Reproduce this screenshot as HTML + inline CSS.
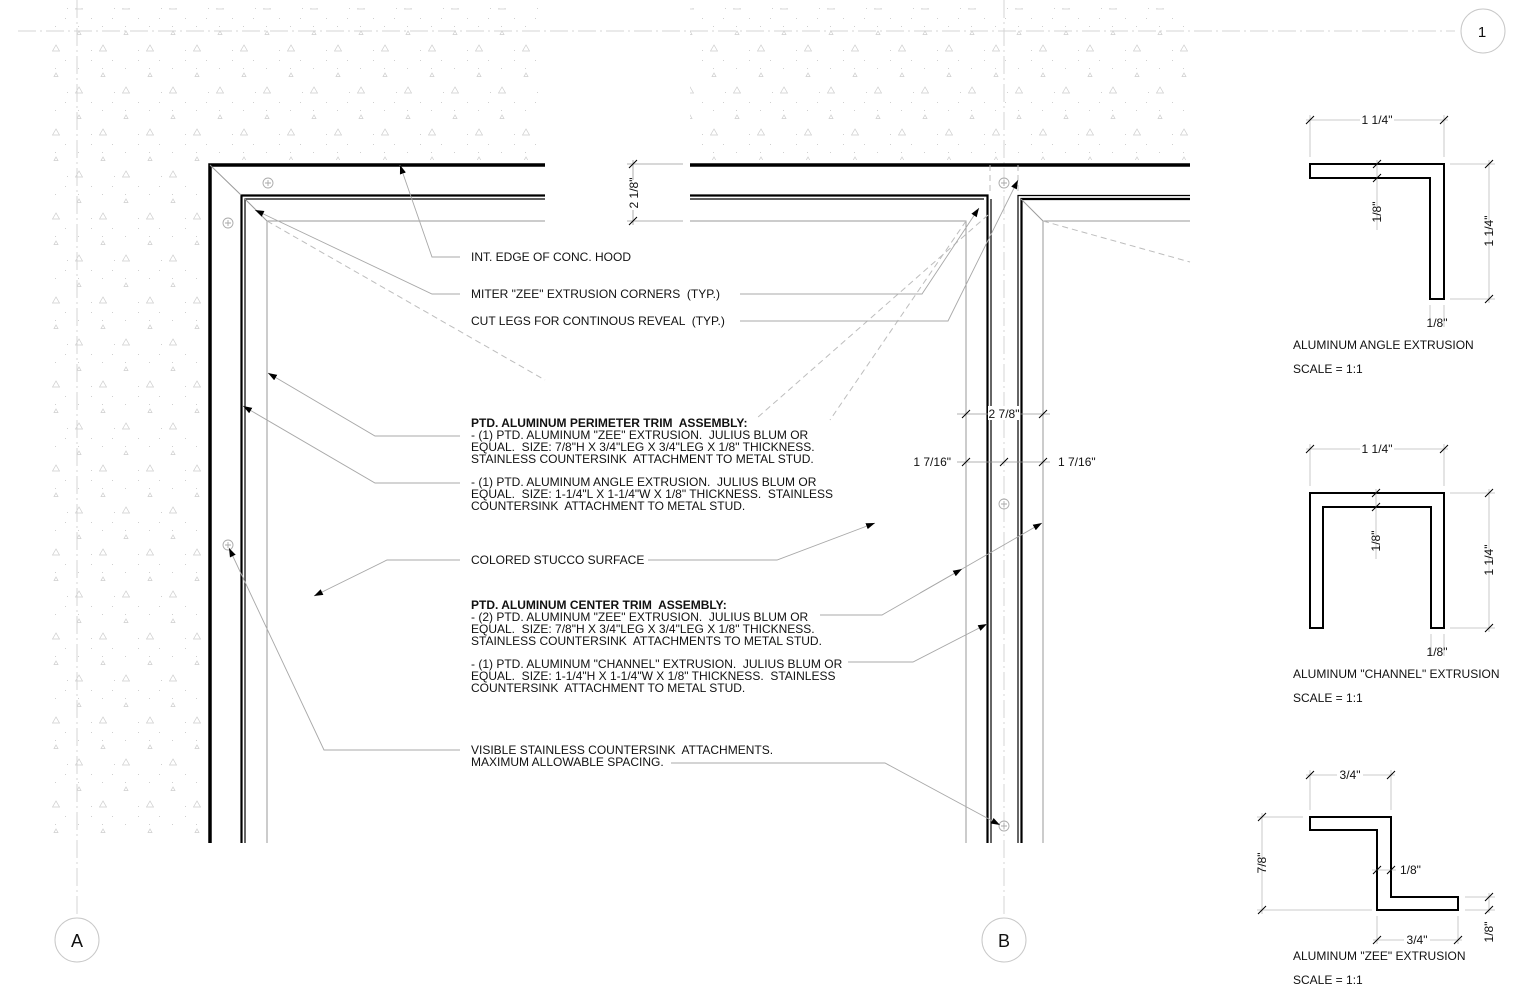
<!DOCTYPE html>
<html><head><meta charset="utf-8"><style>
html,body{margin:0;padding:0;background:#fff;}
svg{display:block;}
text{font-family:"Liberation Sans",Arial,sans-serif;fill:#111;white-space:pre;}
</style></head><body>
<svg width="1536" height="1000" viewBox="0 0 1536 1000" xmlns="http://www.w3.org/2000/svg" xml:space="preserve">
<defs>
<pattern id="conc" x="55" y="0" width="47" height="84" patternUnits="userSpaceOnUse">
 <g fill="none" stroke="#cdcdcd" stroke-width="0.7">
  <path d="M24 3 l-3.5 6 h7 z"/>
  <path d="M1 45 l-3.5 6 h7 z"/><path d="M48 45 l-3.5 6 h7 z"/>
  <path d="M24 31 l-2 3.5 h4 z"/>
  <path d="M1 73 l-2 3.5 h4 z"/><path d="M48 73 l-2 3.5 h4 z"/>
 </g>
 <g fill="#cfcfcf">
  <rect x="10" y="18" width="1" height="1"/><rect x="36" y="18" width="1" height="1"/>
  <rect x="23" y="26" width="1" height="1"/><rect x="0" y="26" width="1" height="1"/>
  <rect x="10" y="60" width="1" height="1"/><rect x="36" y="60" width="1" height="1"/>
  <rect x="23" y="68" width="1" height="1"/><rect x="0" y="68" width="1" height="1"/>
  <rect x="12" y="8" width="1" height="1"/><rect x="36" y="50" width="1" height="1"/>
 </g>
</pattern>
<marker id="ar" viewBox="0 0 10 10" refX="10" refY="5" markerWidth="9" markerHeight="9" markerUnits="userSpaceOnUse" orient="auto"><path d="M0 1.5 L10 5 L0 8.5 z" fill="#000"/></marker>
</defs>

<rect x="50" y="8" width="495" height="152" fill="url(#conc)"/>
<rect x="50" y="160" width="155" height="675" fill="url(#conc)"/>
<rect x="690" y="8" width="500" height="152" fill="url(#conc)"/>

<g stroke="#d4d4d4" stroke-width="1" fill="none" stroke-dasharray="18,4,2,4">
 <line x1="18" y1="31" x2="1455" y2="31"/>
 <line x1="77" y1="0" x2="77" y2="918"/>
 <line x1="1004" y1="0" x2="1004" y2="918"/>
</g>
<g fill="none" stroke="#c8c8c8" stroke-width="1">
 <circle cx="77" cy="940" r="22"/><circle cx="1004" cy="940" r="22"/><circle cx="1483" cy="31" r="22"/>
</g>
<text x="77" y="947" font-size="18" text-anchor="middle">A</text>
<text x="1004" y="947" font-size="18" text-anchor="middle">B</text>
<text x="1482" y="37" font-size="15" text-anchor="middle">1</text>

<g fill="none" stroke="#000">
 <polyline points="210,843 210,165 545,165" stroke-width="3.5"/>
 <line x1="690" y1="165" x2="1190" y2="165" stroke-width="3.5"/>
 <polyline points="241.5,843 241.5,195.5 545,195.5" stroke-width="2.2"/>
 <polyline points="245,843 245,199 545,199" stroke-width="1.2"/>
 <polyline points="690,195.5 987.5,195.5 987.5,843" stroke-width="2.2"/>
 <polyline points="690,199 984,199" stroke-width="1.2"/>
 <line x1="991" y1="199" x2="991" y2="843" stroke-width="1.2"/>
 <polyline points="1018,843 1018,195.5 1190,195.5" stroke-width="1.2"/>
 <polyline points="1021.5,843 1021.5,199 1190,199" stroke-width="2.2"/>
</g>
<g fill="none" stroke="#9a9a9a" stroke-width="1">
 <polyline points="267,843 267,221 545,221"/>
 <polyline points="690,221 966,221 966,843"/>
 <polyline points="1190,221 1043,221 1043,843"/>
 <line x1="210" y1="165" x2="241" y2="195"/>
 <line x1="245" y1="199" x2="267" y2="221"/>
 <line x1="1021" y1="199" x2="1043" y2="221"/>
</g>
<g fill="none" stroke="#bdbdbd" stroke-width="1" stroke-dasharray="6,4">
 <line x1="267" y1="221" x2="545" y2="380"/>
 <line x1="1043" y1="221" x2="1190" y2="262"/>
 <line x1="966" y1="221" x2="830" y2="420"/>
 <line x1="988" y1="215" x2="757" y2="418"/>
 <line x1="990" y1="165" x2="990" y2="195"/>
 <line x1="1018" y1="165" x2="1018" y2="195"/>
</g>

<g fill="none" stroke="#aaa" stroke-width="0.9">
 <g transform="translate(268,183)"><circle r="5"/><path d="M-3 0h6M0 -3v6"/></g>
 <g transform="translate(228,223)"><circle r="5"/><path d="M-3 0h6M0 -3v6"/></g>
 <g transform="translate(228,545)"><circle r="5"/><path d="M-3 0h6M0 -3v6"/></g>
 <g transform="translate(1004,183)"><circle r="5"/><path d="M-3 0h6M0 -3v6"/></g>
 <g transform="translate(1004,504)"><circle r="5"/><path d="M-3 0h6M0 -3v6"/></g>
 <g transform="translate(1004,826)"><circle r="5"/><path d="M-3 0h6M0 -3v6"/></g>
</g>

<g fill="none" stroke="#999" stroke-width="0.8">
 <line x1="627" y1="164" x2="683" y2="164"/><line x1="627" y1="221" x2="683" y2="221"/>
 <line x1="633" y1="160" x2="633" y2="225"/>
 <line x1="957" y1="414" x2="1050" y2="414"/>
 <line x1="957" y1="462" x2="1050" y2="462"/>
</g>
<g stroke="#000" stroke-width="1">
 <path d="M629 168l8 -8M629 225l8 -8"/>
 <path d="M962 418l8 -8M1039 418l8 -8"/>
 <path d="M962 466l8 -8M1000 466l8 -8M1039 466l8 -8"/>
</g>
<rect x="624" y="180" width="18" height="30" fill="#fff"/>
<text x="638" y="193" font-size="12" text-anchor="middle" transform="rotate(-90 638 193)">2 1/8"</text>
<rect x="988" y="406" width="32" height="14" fill="#fff"/>
<text x="1004" y="418" font-size="12" text-anchor="middle">2 7/8"</text>
<text x="951" y="466" font-size="12" text-anchor="end">1 7/16"</text>
<text x="1058" y="466" font-size="12">1 7/16"</text>

<g fill="none" stroke="#a8a8a8" stroke-width="0.9">
 <polyline points="460,257 432,257 400,165" marker-end="url(#ar)"/>
 <polyline points="460,294 432,294 255,210" marker-end="url(#ar)"/>
 <polyline points="740,294 922,294 979,208" marker-end="url(#ar)"/>
 <polyline points="740,321 948,321 1018,180" marker-end="url(#ar)"/>
 <polyline points="460,436 375,436 268,373" marker-end="url(#ar)"/>
 <polyline points="460,483 375,483 243,406" marker-end="url(#ar)"/>
 <polyline points="460,560 387,560 314,596" marker-end="url(#ar)"/>
 <polyline points="648,560 777,560 875,523" marker-end="url(#ar)"/>
 <polyline points="820,615 882,615 1042,523" marker-end="url(#ar)"/>
 <line x1="920" y1="593" x2="962" y2="569" marker-end="url(#ar)"/>
 <polyline points="848,662 913,662 987,624" marker-end="url(#ar)"/>
 <polyline points="460,750 324,750 229,548" marker-end="url(#ar)"/>
 <polyline points="671,763 885,763 1000,825" marker-end="url(#ar)"/>
</g>

<g font-size="12">
 <text x="471" y="261">INT. EDGE OF CONC. HOOD</text>
 <text x="471" y="298">MITER "ZEE" EXTRUSION CORNERS  (TYP.)</text>
 <text x="471" y="325">CUT LEGS FOR CONTINOUS REVEAL  (TYP.)</text>
 <text x="471" y="427" font-weight="bold">PTD. ALUMINUM PERIMETER TRIM  ASSEMBLY:</text>
 <text x="471" y="439">- (1) PTD. ALUMINUM "ZEE" EXTRUSION.  JULIUS BLUM OR</text>
 <text x="471" y="451">EQUAL.  SIZE: 7/8"H X 3/4"LEG X 3/4"LEG X 1/8" THICKNESS.</text>
 <text x="471" y="463">STAINLESS COUNTERSINK  ATTACHMENT TO METAL STUD.</text>
 <text x="471" y="486">- (1) PTD. ALUMINUM ANGLE EXTRUSION.  JULIUS BLUM OR</text>
 <text x="471" y="498">EQUAL.  SIZE: 1-1/4"L X 1-1/4"W X 1/8" THICKNESS.  STAINLESS</text>
 <text x="471" y="510">COUNTERSINK  ATTACHMENT TO METAL STUD.</text>
 <text x="471" y="564">COLORED STUCCO SURFACE</text>
 <text x="471" y="609" font-weight="bold">PTD. ALUMINUM CENTER TRIM  ASSEMBLY:</text>
 <text x="471" y="621">- (2) PTD. ALUMINUM "ZEE" EXTRUSION.  JULIUS BLUM OR</text>
 <text x="471" y="633">EQUAL.  SIZE: 7/8"H X 3/4"LEG X 3/4"LEG X 1/8" THICKNESS.</text>
 <text x="471" y="645">STAINLESS COUNTERSINK  ATTACHMENTS TO METAL STUD.</text>
 <text x="471" y="668">- (1) PTD. ALUMINUM "CHANNEL" EXTRUSION.  JULIUS BLUM OR</text>
 <text x="471" y="680">EQUAL.  SIZE: 1-1/4"H X 1-1/4"W X 1/8" THICKNESS.  STAINLESS</text>
 <text x="471" y="692">COUNTERSINK  ATTACHMENT TO METAL STUD.</text>
 <text x="471" y="754">VISIBLE STAINLESS COUNTERSINK  ATTACHMENTS.</text>
 <text x="471" y="766">MAXIMUM ALLOWABLE SPACING.</text>
</g>

<g fill="none" stroke="#000" stroke-width="2">
 <polygon points="1310,164 1444,164 1444,299 1430,299 1430,178 1310,178"/>
 <polygon points="1310,493 1444,493 1444,628 1431,628 1431,507 1323,507 1323,628 1310,628"/>
 <polygon points="1310,817 1391,817 1391,897 1458,897 1458,910 1377,910 1377,830 1310,830"/>
</g>
<g fill="none" stroke="#bbb" stroke-width="0.8">
 <path d="M1310 115v42M1444 115v42M1306 120h142"/>
 <path d="M1450 164h45M1450 299h45M1489 160v143"/>
 <path d="M1377 160v70"/>
 <path d="M1430 305v22M1444 305v22"/>
 <path d="M1310 444v42M1444 444v42M1306 449h142"/>
 <path d="M1450 493h45M1450 628h45M1489 489v143"/>
 <path d="M1376 489v70"/>
 <path d="M1431 634v22M1444 634v22"/>
 <path d="M1310 770v40M1391 770v40M1306 775h89"/>
 <path d="M1257 817h46M1257 910h115M1262 813v101"/>
 <path d="M1372 870h24"/>
 <path d="M1377 916v28M1458 916v28M1373 940h89"/>
 <path d="M1465 897h30M1465 910h30M1489 893v20"/>
</g>
<g stroke="#000" stroke-width="1">
 <path d="M1306 124l8 -8M1440 124l8 -8M1485 168l8 -8M1485 303l8 -8M1373 168l8 -8M1373 182l8 -8"/>
 <path d="M1306 453l8 -8M1440 453l8 -8M1485 497l8 -8M1485 632l8 -8M1372 497l8 -8M1372 511l8 -8"/>
 <path d="M1306 779l8 -8M1387 779l8 -8M1258 821l8 -8M1258 914l8 -8M1373 874l8 -8M1387 874l8 -8M1373 944l8 -8M1454 944l8 -8M1485 901l8 -8M1485 914l8 -8"/>
</g>
<g font-size="12">
 <rect x="1360" y="113" width="34" height="14" fill="#fff"/>
 <text x="1377" y="124" text-anchor="middle">1 1/4"</text>
 <text x="1493" y="231" text-anchor="middle" transform="rotate(-90 1493 231)">1 1/4"</text>
 <text x="1381" y="212" text-anchor="middle" transform="rotate(-90 1381 212)">1/8"</text>
 <text x="1437" y="327" text-anchor="middle">1/8"</text>
 <text x="1293" y="349">ALUMINUM ANGLE EXTRUSION</text>
 <text x="1293" y="373">SCALE = 1:1</text>

 <rect x="1360" y="442" width="34" height="14" fill="#fff"/>
 <text x="1377" y="453" text-anchor="middle">1 1/4"</text>
 <text x="1493" y="560" text-anchor="middle" transform="rotate(-90 1493 560)">1 1/4"</text>
 <text x="1380" y="541" text-anchor="middle" transform="rotate(-90 1380 541)">1/8"</text>
 <text x="1437" y="656" text-anchor="middle">1/8"</text>
 <text x="1293" y="678">ALUMINUM "CHANNEL" EXTRUSION</text>
 <text x="1293" y="702">SCALE = 1:1</text>

 <rect x="1337" y="768" width="26" height="14" fill="#fff"/>
 <text x="1350" y="779" text-anchor="middle">3/4"</text>
 <text x="1266" y="863" text-anchor="middle" transform="rotate(-90 1266 863)">7/8"</text>
 <text x="1400" y="874">1/8"</text>
 <rect x="1404" y="933" width="26" height="14" fill="#fff"/>
 <text x="1417" y="944" text-anchor="middle">3/4"</text>
 <text x="1493" y="932" text-anchor="middle" transform="rotate(-90 1493 932)">1/8"</text>
 <text x="1293" y="960">ALUMINUM "ZEE" EXTRUSION</text>
 <text x="1293" y="984">SCALE = 1:1</text>
</g>
</svg>
</body></html>
